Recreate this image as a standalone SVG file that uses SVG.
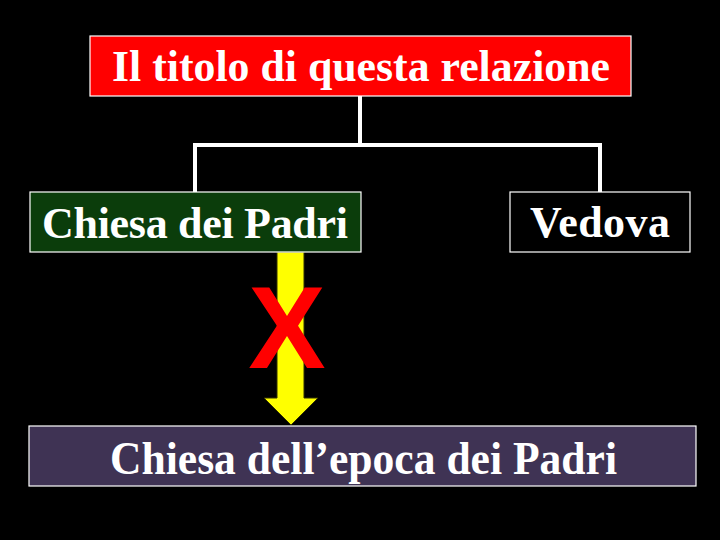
<svg xmlns="http://www.w3.org/2000/svg" width="720" height="540" viewBox="0 0 720 540">
<style>
.box{stroke:#ffffff;stroke-width:1.2}
.t{font-family:"Liberation Serif","Times New Roman",serif;font-weight:bold;fill:#ffffff;text-anchor:start}
.conn{fill:none;stroke:#ffffff;stroke-width:4;stroke-linecap:square}
</style>
<rect width="720" height="540" fill="#000000"/>
<g id="connectors">
<path class="conn" d="M360 97 V145 M195 191 V145 H600 V191"/>
<path d="M277 252 H304 V398 H318 L291 425 L264 398 H277 Z" fill="#ffff00" stroke="#333300" stroke-width="1"/>
</g>
<g id="title">
<rect class="box" x="90" y="36" width="541" height="60" fill="#ff0000"/>
<text class="t" x="112" y="81" font-size="45" textLength="498" lengthAdjust="spacingAndGlyphs">Il titolo di questa relazione</text>
</g>
<g id="chiesa-padri">
<rect class="box" x="30" y="192" width="331" height="60" fill="#0b3d0b"/>
<text class="t" x="42" y="238" font-size="44" textLength="306" lengthAdjust="spacing">Chiesa dei Padri</text>
</g>
<g id="vedova">
<rect class="box" x="510" y="192" width="180" height="60" fill="#000000"/>
<text class="t" x="530" y="237" font-size="44" textLength="140" lengthAdjust="spacing">Vedova</text>
</g>
<g id="cross">
<text x="287" y="368" font-family="Liberation Sans, Arial, sans-serif" font-weight="bold" font-size="116" fill="#ff0000" text-anchor="middle">X</text>
</g>
<g id="chiesa-epoca">
<rect class="box" x="29" y="426" width="667" height="60" fill="#3f3354"/>
<text class="t" x="110" y="474" font-size="46" textLength="507" lengthAdjust="spacingAndGlyphs">Chiesa dell’epoca dei Padri</text>
</g>
</svg>
